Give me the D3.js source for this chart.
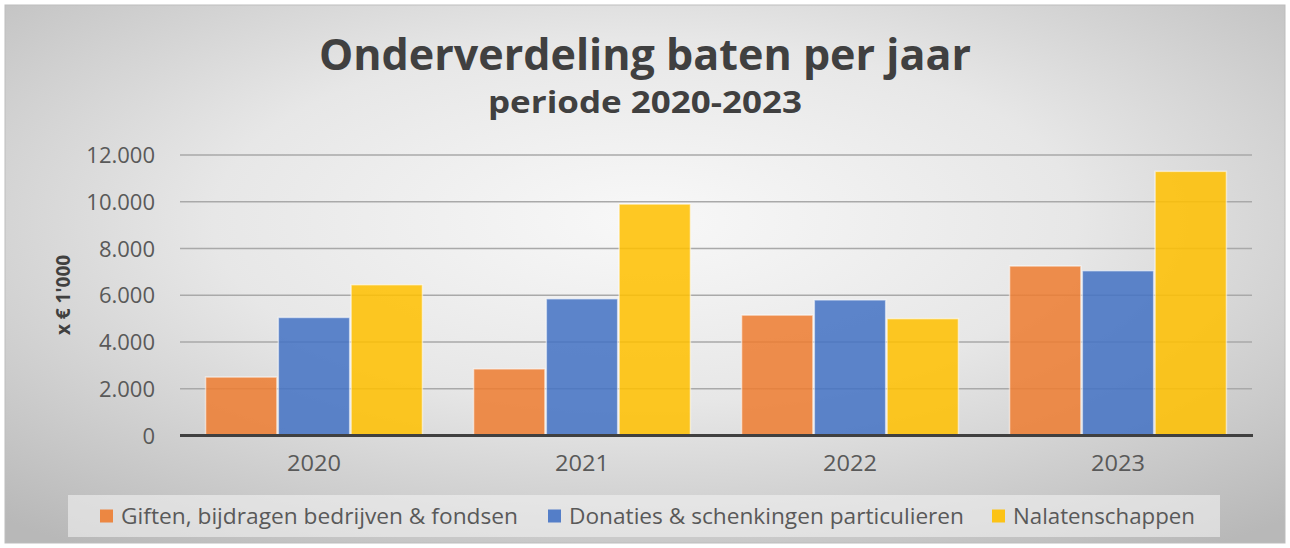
<!DOCTYPE html>
<html>
<head>
<meta charset="utf-8">
<script src="https://cdn.jsdelivr.net/npm/d3@7"></script>
<style>
  html, body { margin: 0; padding: 0; background: #ffffff; }
  svg { display: block; }
  text { font-family: "Open Sans", "Noto Sans", sans-serif; }
</style>
</head>
<body>
<svg id="chart" width="1290" height="548"></svg>
<script>
const categories = ["2020", "2021", "2022", "2023"];
const seriesNames = ["Giften, bijdragen bedrijven & fondsen", "Donaties & schenkingen particulieren", "Nalatenschappen"];
const giften = [2500, 2850, 5150, 7250];
const donaties = [5050, 5850, 5800, 7050];
const nalatenschappen = [6450, 9900, 5000, 11300];
const yTicks = [0, 2000, 4000, 6000, 8000, 10000, 12000];
const colors = ["#ED7D31", "#4472C4", "#FFC000"];
const titleText = "Onderverdeling baten per jaar";
const subtitleText = "periode 2020-2023";
const yAxisTitle = "x € 1'000";

const series = [giften, donaties, nalatenschappen];

const svg = d3.select("#chart");

// background gradient
const defs = svg.append("defs");
const rg = defs.append("radialGradient").attr("id", "bg")
  .attr("cx", "50%").attr("cy", "40%").attr("r", "75%");
rg.append("stop").attr("offset", "0%").attr("stop-color", "#f8f8f8");
rg.append("stop").attr("offset", "45%").attr("stop-color", "#e7e7e7");
rg.append("stop").attr("offset", "100%").attr("stop-color", "#b8b8b8");

svg.append("rect").attr("x", 5).attr("y", 5).attr("width", 1280).attr("height", 538)
  .attr("fill", "url(#bg)").attr("stroke", "#bdbdbd").attr("stroke-width", 1);

const plot = { left: 180, right: 1252, top: 155, bottom: 435.5 };

const x0 = d3.scaleBand().domain(categories).range([plot.left, plot.right]).paddingInner(0.18).paddingOuter(0.09);
const x1 = d3.scaleBand().domain(d3.range(series.length)).range([0, x0.bandwidth()]).padding(0.02);
const y = d3.scaleLinear().domain([0, 12000]).range([plot.bottom, plot.top]);

const fmt = v => d3.format(",")(v).replace(/,/g, ".");

// gridlines
svg.append("g").selectAll("line").data(yTicks.filter(t => t > 0)).join("line")
  .attr("x1", plot.left).attr("x2", plot.right)
  .attr("y1", d => y(d)).attr("y2", d => y(d))
  .attr("stroke", "#a9a9a9").attr("stroke-width", 1.5);

// y axis labels
const yAxis = d3.axisLeft(y).tickValues(yTicks).tickFormat(fmt).tickSize(0).tickPadding(0);
const yg = svg.append("g").attr("transform", `translate(${plot.left - 25},0)`).call(yAxis);
yg.select(".domain").remove();
yg.selectAll("text").attr("fill", "#595959").style("font-size", "22px")
  .style("font-family", "'Open Sans', sans-serif").attr("dy", "0.35em");

// bars
const groups = svg.append("g").selectAll("g").data(categories).join("g")
  .attr("transform", d => `translate(${x0(d)},0)`);
groups.selectAll("rect").data((d, i) => series.map((s, k) => ({ k, v: s[i] }))).join("rect")
  .attr("x", d => x1(d.k)).attr("width", x1.bandwidth())
  .attr("y", d => y(d.v)).attr("height", d => y(0) - y(d.v))
  .attr("fill", d => colors[d.k]).attr("fill-opacity", 0.86)
  .attr("stroke", "#ffffff").attr("stroke-opacity", 0.55).attr("stroke-width", 1.5);

// baseline
svg.append("line").attr("x1", plot.left).attr("x2", plot.right + 1)
  .attr("y1", y(0)).attr("y2", y(0)).attr("stroke", "#404040").attr("stroke-width", 3);

// x axis labels
const xAxis = d3.axisBottom(x0).tickSize(0).tickPadding(0);
const xg = svg.append("g").attr("transform", `translate(0,${plot.bottom + 20})`).call(xAxis);
xg.select(".domain").remove();
xg.selectAll("text").attr("fill", "#595959").style("font-size", "21px")
  .attr("textLength", 54).attr("lengthAdjust", "spacingAndGlyphs")
  .style("font-family", "'Open Sans', sans-serif").attr("dy", "0.75em");

// y axis title
svg.append("text").attr("transform", "translate(70,295) rotate(-90)")
  .attr("text-anchor", "middle").attr("fill", "#404040")
  .style("font-size", "19px").style("font-weight", "bold").text(yAxisTitle);

// titles
svg.append("text").attr("x", 645).attr("y", 70).attr("text-anchor", "middle")
  .attr("fill", "#404040").style("font-size", "43px").style("font-weight", "bold")
  .attr("textLength", 652).attr("lengthAdjust", "spacingAndGlyphs").text(titleText);
svg.append("text").attr("x", 645).attr("y", 113).attr("text-anchor", "middle")
  .attr("fill", "#404040").style("font-size", "30px").style("font-weight", "bold")
  .attr("textLength", 314).attr("lengthAdjust", "spacingAndGlyphs").text(subtitleText);

// legend
svg.append("rect").attr("x", 68).attr("y", 495).attr("width", 1152).attr("height", 42)
  .attr("fill", "#f2f2f2").attr("fill-opacity", 0.6);
const legendX = [100, 548, 992];
const legendW = [397, 395, 182];
const lg = svg.append("g").selectAll("g").data(seriesNames).join("g")
  .attr("transform", (d, i) => `translate(${legendX[i]},516)`);
lg.append("rect").attr("x", 0).attr("y", -6.5).attr("width", 13).attr("height", 13)
  .attr("fill", (d, i) => colors[i]).attr("fill-opacity", 0.9);
lg.append("text").attr("x", 21).attr("dy", "0.36em").attr("fill", "#595959")
  .style("font-size", "21px")
  .attr("textLength", (d, i) => legendW[i]).attr("lengthAdjust", "spacingAndGlyphs")
  .text(d => d);
</script>
</body>
</html>
